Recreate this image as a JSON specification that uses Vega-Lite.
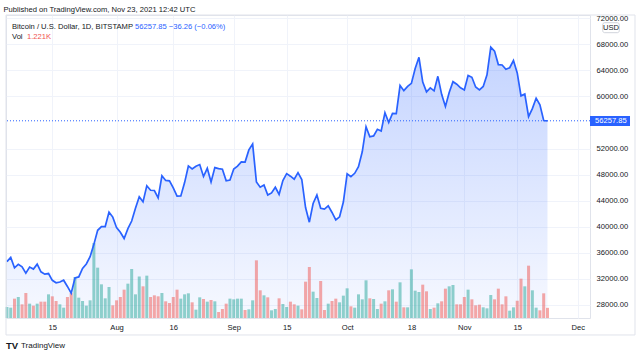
{
  "$schema": "https://vega.github.io/schema/vega-lite/v6.json",
  "width": 584,
  "height": 303,
  "autosize": "none",
  "padding": {"left": 6, "top": 15, "right": 50, "bottom": 40},
  "background": "#ffffff",
  "config": {
    "font": "Liberation Sans",
    "view": {"stroke": "#e0e3eb", "strokeWidth": 1},
    "title": {"font": "Liberation Sans"},
    "axis": {"labelOverlap": false, "labelSeparation": 0},
    "scale": {"continuousPadding": 0}
  },
  "title": {"text": "Published on TradingView.com, Nov 23, 2021 12:42 UTC", "anchor": "start", "fontSize": 7.6, "fontWeight": "normal", "color": "#131722", "offset": 1},
  "datasets": {
    "btc": [
      {"d":"2021-07-03","c":34650,"v":1.32,"dir":"up"},
      {"d":"2021-07-04","c":35290,"v":1.24,"dir":"up"},
      {"d":"2021-07-05","c":33700,"v":2.32,"dir":"down"},
      {"d":"2021-07-06","c":34230,"v":2.52,"dir":"up"},
      {"d":"2021-07-07","c":33860,"v":1.64,"dir":"down"},
      {"d":"2021-07-08","c":32880,"v":3.00,"dir":"down"},
      {"d":"2021-07-09","c":33810,"v":1.72,"dir":"up"},
      {"d":"2021-07-10","c":33510,"v":1.48,"dir":"down"},
      {"d":"2021-07-11","c":34260,"v":1.72,"dir":"up"},
      {"d":"2021-07-12","c":33090,"v":1.96,"dir":"down"},
      {"d":"2021-07-13","c":32730,"v":1.96,"dir":"down"},
      {"d":"2021-07-14","c":32820,"v":2.84,"dir":"up"},
      {"d":"2021-07-15","c":31780,"v":2.60,"dir":"down"},
      {"d":"2021-07-16","c":31400,"v":2.04,"dir":"down"},
      {"d":"2021-07-17","c":31530,"v":1.64,"dir":"up"},
      {"d":"2021-07-18","c":31800,"v":1.24,"dir":"up"},
      {"d":"2021-07-19","c":30840,"v":2.52,"dir":"down"},
      {"d":"2021-07-20","c":29800,"v":3.00,"dir":"down"},
      {"d":"2021-07-21","c":32140,"v":4.92,"dir":"up"},
      {"d":"2021-07-22","c":32300,"v":2.44,"dir":"up"},
      {"d":"2021-07-23","c":33620,"v":2.04,"dir":"up"},
      {"d":"2021-07-24","c":34290,"v":1.48,"dir":"up"},
      {"d":"2021-07-25","c":35400,"v":2.12,"dir":"up"},
      {"d":"2021-07-26","c":37300,"v":9.00,"dir":"up"},
      {"d":"2021-07-27","c":39460,"v":6.04,"dir":"up"},
      {"d":"2021-07-28","c":40020,"v":4.04,"dir":"up"},
      {"d":"2021-07-29","c":40030,"v":2.36,"dir":"up"},
      {"d":"2021-07-30","c":42240,"v":3.72,"dir":"up"},
      {"d":"2021-07-31","c":41480,"v":1.52,"dir":"down"},
      {"d":"2021-08-01","c":39860,"v":2.12,"dir":"down"},
      {"d":"2021-08-02","c":39160,"v":2.52,"dir":"down"},
      {"d":"2021-08-03","c":38190,"v":3.40,"dir":"down"},
      {"d":"2021-08-04","c":39720,"v":4.12,"dir":"up"},
      {"d":"2021-08-05","c":40880,"v":5.88,"dir":"up"},
      {"d":"2021-08-06","c":42840,"v":2.84,"dir":"up"},
      {"d":"2021-08-07","c":44600,"v":4.98,"dir":"up"},
      {"d":"2021-08-08","c":43820,"v":3.80,"dir":"down"},
      {"d":"2021-08-09","c":46290,"v":5.08,"dir":"up"},
      {"d":"2021-08-10","c":45600,"v":2.52,"dir":"down"},
      {"d":"2021-08-11","c":45560,"v":2.72,"dir":"down"},
      {"d":"2021-08-12","c":44430,"v":2.60,"dir":"down"},
      {"d":"2021-08-13","c":47820,"v":3.00,"dir":"up"},
      {"d":"2021-08-14","c":47110,"v":2.00,"dir":"down"},
      {"d":"2021-08-15","c":47050,"v":1.80,"dir":"down"},
      {"d":"2021-08-16","c":45970,"v":2.52,"dir":"down"},
      {"d":"2021-08-17","c":44700,"v":3.40,"dir":"down"},
      {"d":"2021-08-18","c":44720,"v":2.32,"dir":"up"},
      {"d":"2021-08-19","c":46780,"v":2.84,"dir":"up"},
      {"d":"2021-08-20","c":49330,"v":2.96,"dir":"up"},
      {"d":"2021-08-21","c":48880,"v":1.88,"dir":"down"},
      {"d":"2021-08-22","c":49290,"v":1.00,"dir":"up"},
      {"d":"2021-08-23","c":49540,"v":2.48,"dir":"up"},
      {"d":"2021-08-24","c":47710,"v":2.28,"dir":"down"},
      {"d":"2021-08-25","c":48970,"v":1.96,"dir":"up"},
      {"d":"2021-08-26","c":46860,"v":2.16,"dir":"down"},
      {"d":"2021-08-27","c":49080,"v":2.00,"dir":"up"},
      {"d":"2021-08-28","c":48920,"v":0.72,"dir":"down"},
      {"d":"2021-08-29","c":48830,"v":1.08,"dir":"down"},
      {"d":"2021-08-30","c":47050,"v":1.72,"dir":"down"},
      {"d":"2021-08-31","c":47160,"v":2.32,"dir":"up"},
      {"d":"2021-09-01","c":48850,"v":2.24,"dir":"up"},
      {"d":"2021-09-02","c":49300,"v":2.32,"dir":"up"},
      {"d":"2021-09-03","c":49950,"v":2.32,"dir":"up"},
      {"d":"2021-09-04","c":49920,"v":0.96,"dir":"down"},
      {"d":"2021-09-05","c":51790,"v":1.04,"dir":"up"},
      {"d":"2021-09-06","c":52690,"v":2.12,"dir":"up"},
      {"d":"2021-09-07","c":46870,"v":6.92,"dir":"down"},
      {"d":"2021-09-08","c":46080,"v":3.32,"dir":"down"},
      {"d":"2021-09-09","c":46400,"v":2.72,"dir":"up"},
      {"d":"2021-09-10","c":44860,"v":2.48,"dir":"down"},
      {"d":"2021-09-11","c":45200,"v":0.92,"dir":"up"},
      {"d":"2021-09-12","c":46060,"v":1.08,"dir":"up"},
      {"d":"2021-09-13","c":44960,"v":2.36,"dir":"down"},
      {"d":"2021-09-14","c":47100,"v":1.68,"dir":"up"},
      {"d":"2021-09-15","c":48150,"v":1.32,"dir":"up"},
      {"d":"2021-09-16","c":47760,"v":1.96,"dir":"down"},
      {"d":"2021-09-17","c":47290,"v":1.64,"dir":"down"},
      {"d":"2021-09-18","c":48300,"v":1.48,"dir":"up"},
      {"d":"2021-09-19","c":47250,"v":1.04,"dir":"down"},
      {"d":"2021-09-20","c":42950,"v":4.36,"dir":"down"},
      {"d":"2021-09-21","c":40700,"v":6.12,"dir":"down"},
      {"d":"2021-09-22","c":43570,"v":3.16,"dir":"up"},
      {"d":"2021-09-23","c":44880,"v":2.40,"dir":"up"},
      {"d":"2021-09-24","c":42840,"v":4.44,"dir":"down"},
      {"d":"2021-09-25","c":42700,"v":0.96,"dir":"down"},
      {"d":"2021-09-26","c":43200,"v":1.72,"dir":"up"},
      {"d":"2021-09-27","c":42190,"v":2.04,"dir":"down"},
      {"d":"2021-09-28","c":41040,"v":2.32,"dir":"down"},
      {"d":"2021-09-29","c":41530,"v":1.88,"dir":"up"},
      {"d":"2021-09-30","c":43800,"v":2.68,"dir":"up"},
      {"d":"2021-10-01","c":48130,"v":3.56,"dir":"up"},
      {"d":"2021-10-02","c":47700,"v":1.40,"dir":"down"},
      {"d":"2021-10-03","c":48200,"v":1.24,"dir":"up"},
      {"d":"2021-10-04","c":49230,"v":2.84,"dir":"up"},
      {"d":"2021-10-05","c":51500,"v":2.24,"dir":"up"},
      {"d":"2021-10-06","c":55340,"v":4.52,"dir":"up"},
      {"d":"2021-10-07","c":53800,"v":2.36,"dir":"down"},
      {"d":"2021-10-08","c":53940,"v":2.28,"dir":"up"},
      {"d":"2021-10-09","c":54960,"v":1.08,"dir":"up"},
      {"d":"2021-10-10","c":54680,"v":1.72,"dir":"down"},
      {"d":"2021-10-11","c":57490,"v":2.00,"dir":"up"},
      {"d":"2021-10-12","c":56000,"v":3.32,"dir":"down"},
      {"d":"2021-10-13","c":57380,"v":3.44,"dir":"up"},
      {"d":"2021-10-14","c":57350,"v":1.96,"dir":"down"},
      {"d":"2021-10-15","c":61670,"v":4.28,"dir":"up"},
      {"d":"2021-10-16","c":60880,"v":1.28,"dir":"down"},
      {"d":"2021-10-17","c":61530,"v":1.28,"dir":"up"},
      {"d":"2021-10-18","c":62000,"v":5.84,"dir":"up"},
      {"d":"2021-10-19","c":64280,"v":3.28,"dir":"up"},
      {"d":"2021-10-20","c":66000,"v":3.12,"dir":"up"},
      {"d":"2021-10-21","c":62200,"v":4.00,"dir":"down"},
      {"d":"2021-10-22","c":60690,"v":3.20,"dir":"down"},
      {"d":"2021-10-23","c":61300,"v":1.08,"dir":"up"},
      {"d":"2021-10-24","c":60850,"v":1.24,"dir":"down"},
      {"d":"2021-10-25","c":63080,"v":1.76,"dir":"up"},
      {"d":"2021-10-26","c":60320,"v":2.00,"dir":"down"},
      {"d":"2021-10-27","c":58460,"v":3.52,"dir":"down"},
      {"d":"2021-10-28","c":60600,"v":3.80,"dir":"up"},
      {"d":"2021-10-29","c":62260,"v":3.96,"dir":"up"},
      {"d":"2021-10-30","c":61870,"v":1.64,"dir":"down"},
      {"d":"2021-10-31","c":61320,"v":1.64,"dir":"down"},
      {"d":"2021-11-01","c":61000,"v":2.52,"dir":"down"},
      {"d":"2021-11-02","c":63220,"v":3.40,"dir":"up"},
      {"d":"2021-11-03","c":62930,"v":2.24,"dir":"down"},
      {"d":"2021-11-04","c":61440,"v":1.52,"dir":"down"},
      {"d":"2021-11-05","c":61010,"v":1.60,"dir":"down"},
      {"d":"2021-11-06","c":61520,"v":1.28,"dir":"up"},
      {"d":"2021-11-07","c":63310,"v":1.16,"dir":"up"},
      {"d":"2021-11-08","c":67550,"v":2.76,"dir":"up"},
      {"d":"2021-11-09","c":66950,"v":2.24,"dir":"down"},
      {"d":"2021-11-10","c":64880,"v":3.52,"dir":"down"},
      {"d":"2021-11-11","c":64820,"v":1.64,"dir":"down"},
      {"d":"2021-11-12","c":64160,"v":2.60,"dir":"down"},
      {"d":"2021-11-13","c":64400,"v":0.88,"dir":"up"},
      {"d":"2021-11-14","c":65500,"v":1.28,"dir":"up"},
      {"d":"2021-11-15","c":63600,"v":2.08,"dir":"down"},
      {"d":"2021-11-16","c":60080,"v":4.72,"dir":"down"},
      {"d":"2021-11-17","c":60360,"v":3.80,"dir":"up"},
      {"d":"2021-11-18","c":56900,"v":6.28,"dir":"down"},
      {"d":"2021-11-19","c":58120,"v":3.32,"dir":"up"},
      {"d":"2021-11-20","c":59730,"v":1.24,"dir":"up"},
      {"d":"2021-11-21","c":58700,"v":0.92,"dir":"down"},
      {"d":"2021-11-22","c":56294,"v":2.96,"dir":"down"},
      {"d":"2021-11-23","c":56257.85,"v":1.221,"dir":"down"}
    ]
  },
  "data": {"name": "btc"},
  "layer": [
    {
      "mark": {
        "type": "area",
        "color": {"gradient": "linear", "x1": 0, "y1": 0, "x2": 0, "y2": 1,
          "stops": [{"offset": 0, "color": "rgba(41,98,255,0.28)"}, {"offset": 1, "color": "rgba(41,98,255,0.04)"}]}
      },
      "encoding": {
        "x": {
          "field": "d", "type": "temporal", "title": null,
          "scale": {"type": "utc", "nice": false, "padding": 0, "domain": [{"year": 2021, "month": 7, "date": 2, "hours": 18, "utc": true}, {"year": 2021, "month": 12, "date": 4, "hours": 6, "utc": true}]},
          "axis": {
            "values": [
              {"year": 2021, "month": 7, "date": 15, "utc": true},
              {"year": 2021, "month": 8, "date": 1, "utc": true},
              {"year": 2021, "month": 8, "date": 16, "utc": true},
              {"year": 2021, "month": 9, "date": 1, "utc": true},
              {"year": 2021, "month": 9, "date": 15, "utc": true},
              {"year": 2021, "month": 10, "date": 1, "utc": true},
              {"year": 2021, "month": 10, "date": 18, "utc": true},
              {"year": 2021, "month": 11, "date": 1, "utc": true},
              {"year": 2021, "month": 11, "date": 15, "utc": true},
              {"year": 2021, "month": 12, "date": 1, "utc": true}
            ],
            "labelExpr": "utcdate(datum.value) == 1 ? utcFormat(datum.value, '%b') : '' + utcdate(datum.value)",
            "grid": true, "gridColor": "#f0f3fa", "gridWidth": 1,
            "ticks": false, "domain": false,
            "labelFontSize": 7.6, "labelColor": "#131722", "labelPadding": 5,
            "labelOverlap": false, "labelFlush": false
          }
        },
        "y": {
          "field": "c", "type": "quantitative", "title": null,
          "scale": {"domain": [26000, 72490], "nice": false, "zero": false},
          "axis": {
            "orient": "right",
            "values": [28000, 32000, 36000, 40000, 44000, 48000, 52000, 60000, 64000, 68000, 72000],
            "format": ".2f",
            "grid": true, "gridColor": "#f0f3fa", "gridWidth": 1,
            "ticks": false, "domain": false,
            "labelAlign": "left", "labelBaseline": "middle", "labelPadding": 6,
            "labelFontSize": 7.6, "labelColor": "#131722",
            "labelOverlap": false, "labelFlush": false, "labelSeparation": 0
          }
        },
        "y2": {"datum": 26000}
      }
    },
    {
      "mark": {"type": "bar", "orient": "vertical", "size": 3, "opacity": 0.5},
      "encoding": {
        "x": {"field": "d", "type": "temporal", "title": null,
          "scale": {"type": "utc", "nice": false, "padding": 0, "domain": [{"year": 2021, "month": 7, "date": 2, "hours": 18, "utc": true}, {"year": 2021, "month": 12, "date": 4, "hours": 6, "utc": true}]}},
        "y": {"field": "v", "type": "quantitative", "title": null, "scale": {"domain": [0, 36.36], "nice": false}, "axis": null},
        "color": {"field": "dir", "type": "nominal", "scale": {"domain": ["up", "down"], "range": ["#26a69a", "#ef5350"]}, "legend": null}
      }
    },
    {
      "layer": [
        {
          "mark": {"type": "line", "color": "#2962FF", "strokeWidth": 1.7},
          "encoding": {
            "x": {"field": "d", "type": "temporal", "title": null,
              "scale": {"type": "utc", "nice": false, "padding": 0, "domain": [{"year": 2021, "month": 7, "date": 2, "hours": 18, "utc": true}, {"year": 2021, "month": 12, "date": 4, "hours": 6, "utc": true}]}},
            "y": {"field": "c", "type": "quantitative", "title": null, "scale": {"domain": [26000, 72490], "nice": false, "zero": false}, "axis": null}
          }
        },
        {
          "data": {"values": [{}]},
          "mark": {"type": "rect", "fill": "transparent", "stroke": "#e0e3eb", "strokeWidth": 1},
          "encoding": {
            "x": {"datum": {"year": 2021, "month": 7, "date": 2, "hours": 18, "utc": true}, "type": "temporal"},
            "x2": {"datum": {"year": 2021, "month": 12, "date": 16, "hours": 3, "minutes": 40, "utc": true}},
            "y": {"datum": 72490, "type": "quantitative"},
            "y2": {"datum": 23396}
          }
        },
        {
          "data": {"values": [{}]},
          "mark": {"type": "rule", "color": "#2962FF", "strokeDash": [1, 2], "strokeWidth": 1},
          "encoding": {"y": {"datum": 56257.85, "type": "quantitative"}}
        },
        {
          "data": {"values": [{}]},
          "mark": {"type": "rect", "color": "#2962FF"},
          "encoding": {
            "x": {"datum": {"year": 2021, "month": 12, "date": 4, "hours": 6, "utc": true}, "type": "temporal"},
            "x2": {"datum": {"year": 2021, "month": 12, "date": 14, "hours": 20, "utc": true}},
            "y": {"datum": 56995, "type": "quantitative"},
            "y2": {"datum": 55460}
          }
        },
        {
          "data": {"values": [{}]},
          "mark": {"type": "text", "text": "56257.85", "align": "left", "baseline": "middle", "dx": 5, "color": "#ffffff", "fontSize": 7.6},
          "encoding": {
            "x": {"datum": {"year": 2021, "month": 12, "date": 4, "hours": 6, "utc": true}, "type": "temporal"},
            "y": {"datum": 56257.85, "type": "quantitative"}
          }
        },
        {
          "data": {"values": [{}]},
          "mark": {"type": "rect", "fill": "#ffffff", "stroke": "#d1d4dc", "strokeWidth": 1, "cornerRadius": 2},
          "encoding": {
            "x": {"datum": {"year": 2021, "month": 12, "date": 7, "hours": 14, "minutes": 40, "utc": true}, "type": "temporal"},
            "x2": {"datum": {"year": 2021, "month": 12, "date": 12, "utc": true}},
            "y": {"datum": 71309, "type": "quantitative"},
            "y2": {"datum": 69774}
          }
        },
        {
          "data": {"values": [{}]},
          "mark": {"type": "text", "text": "USD", "align": "center", "baseline": "middle", "color": "#131722", "fontSize": 7.6},
          "encoding": {
            "x": {"datum": {"year": 2021, "month": 12, "date": 9, "hours": 19, "minutes": 20, "utc": true}, "type": "temporal"},
            "y": {"datum": 70542, "type": "quantitative"}
          }
        },
        {
          "data": {"values": [{}]},
          "mark": {"type": "text", "text": "Bitcoin / U.S. Dollar, 1D, BITSTAMP", "align": "left", "baseline": "middle", "dx": 6, "dy": 12, "color": "#131722", "fontSize": 7.6},
          "encoding": {
            "x": {"datum": {"year": 2021, "month": 7, "date": 2, "hours": 18, "utc": true}, "type": "temporal"},
            "y": {"datum": 72490, "type": "quantitative"}
          }
        },
        {
          "data": {"values": [{}]},
          "mark": {"type": "text", "text": "56257.85  −36.26 (−0.06%)", "align": "left", "baseline": "middle", "dx": 129, "dy": 12, "color": "#2962FF", "fontSize": 7.6},
          "encoding": {
            "x": {"datum": {"year": 2021, "month": 7, "date": 2, "hours": 18, "utc": true}, "type": "temporal"},
            "y": {"datum": 72490, "type": "quantitative"}
          }
        },
        {
          "data": {"values": [{}]},
          "mark": {"type": "text", "text": "Vol", "align": "left", "baseline": "middle", "dx": 6, "dy": 22, "color": "#131722", "fontSize": 7.6},
          "encoding": {
            "x": {"datum": {"year": 2021, "month": 7, "date": 2, "hours": 18, "utc": true}, "type": "temporal"},
            "y": {"datum": 72490, "type": "quantitative"}
          }
        },
        {
          "data": {"values": [{}]},
          "mark": {"type": "text", "text": "1.221K", "align": "left", "baseline": "middle", "dx": 21, "dy": 22, "color": "#ef5350", "fontSize": 7.6},
          "encoding": {
            "x": {"datum": {"year": 2021, "month": 7, "date": 2, "hours": 18, "utc": true}, "type": "temporal"},
            "y": {"datum": 72490, "type": "quantitative"}
          }
        },
        {
          "data": {"values": [{}]},
          "mark": {"type": "text", "text": "TV", "align": "left", "baseline": "middle", "dx": 0, "color": "#131722", "fontSize": 9.5, "fontWeight": 900},
          "encoding": {
            "x": {"datum": {"year": 2021, "month": 7, "date": 2, "hours": 18, "utc": true}, "type": "temporal"},
            "y": {"datum": 21708, "type": "quantitative"}
          }
        },
        {
          "data": {"values": [{}]},
          "mark": {"type": "text", "text": "TradingView", "align": "left", "baseline": "middle", "dx": 15, "color": "#131722", "fontSize": 8},
          "encoding": {
            "x": {"datum": {"year": 2021, "month": 7, "date": 2, "hours": 18, "utc": true}, "type": "temporal"},
            "y": {"datum": 21708, "type": "quantitative"}
          }
        }
      ]
    }
  ],
  "resolve": {"scale": {"y": "independent"}}
}
